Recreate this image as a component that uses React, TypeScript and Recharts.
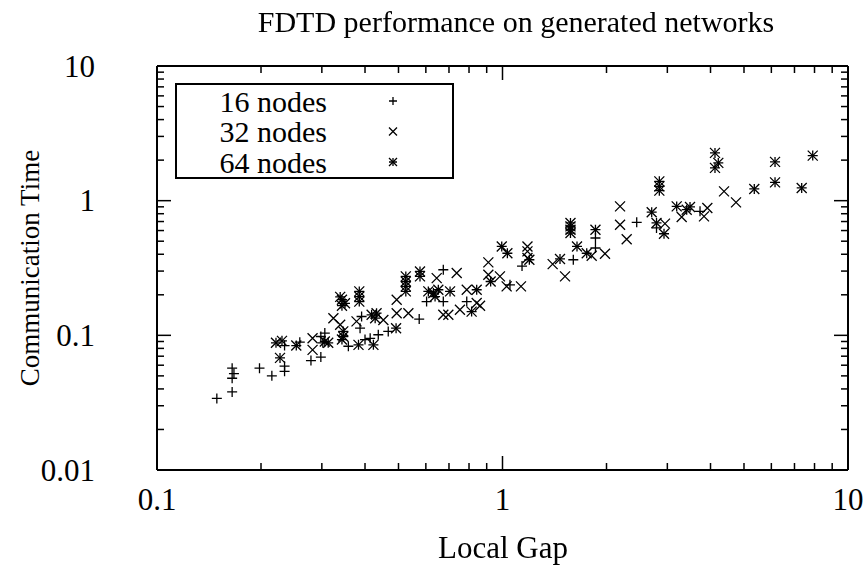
import { Legend, Scatter, ScatterChart, XAxis, YAxis } from "recharts";

const seriesNames = ["16 nodes", "32 nodes", "64 nodes"];

// [local gap, communication time]
const nodes16: [number, number][] = [
  [0.149, 0.034], [0.165, 0.038], [0.165, 0.048], [0.167, 0.052], [0.165, 0.057], [0.198, 0.057],
  [0.215, 0.05], [0.234, 0.054], [0.234, 0.059], [0.234, 0.084], [0.259, 0.089], [0.279, 0.065],
  [0.298, 0.069], [0.306, 0.104], [0.298, 0.098], [0.302, 0.088], [0.358, 0.083], [0.4, 0.093],
  [0.414, 0.095], [0.437, 0.101], [0.467, 0.107], [0.391, 0.138], [0.387, 0.113], [0.574, 0.132],
  [0.674, 0.307], [0.603, 0.178], [0.674, 0.178], [0.788, 0.178], [1.051, 0.237], [1.139, 0.327],
  [1.603, 0.364], [1.858, 0.528], [1.858, 0.445], [2.446, 0.69], [2.791, 0.627], [3.73, 0.833],
];

const nodes32: [number, number][] = [
  [0.282, 0.095], [0.282, 0.078], [0.324, 0.134], [0.339, 0.12], [0.378, 0.127], [0.452, 0.13],
  [0.494, 0.184], [0.494, 0.146], [0.534, 0.146], [0.645, 0.266], [0.674, 0.142], [0.697, 0.142],
  [0.753, 0.155], [0.842, 0.174], [0.861, 0.166], [0.737, 0.29], [0.788, 0.218], [0.91, 0.348],
  [0.91, 0.282], [0.983, 0.274], [1.028, 0.231], [1.131, 0.231], [1.181, 0.457], [1.181, 0.42],
  [1.181, 0.375], [1.397, 0.338], [1.517, 0.274], [1.812, 0.39], [1.98, 0.404], [2.189, 0.907],
  [2.189, 0.663], [2.288, 0.517], [2.953, 0.675], [3.301, 0.756], [3.83, 0.764], [3.916, 0.882],
  [4.377, 1.172], [4.741, 0.971],
];

const nodes64: [number, number][] = [
  [0.221, 0.088], [0.23, 0.091], [0.227, 0.068], [0.253, 0.084], [0.313, 0.088], [0.306, 0.09],
  [0.339, 0.193], [0.343, 0.184], [0.35, 0.173], [0.343, 0.166], [0.385, 0.212], [0.385, 0.194],
  [0.385, 0.178], [0.346, 0.107], [0.346, 0.098], [0.343, 0.093], [0.383, 0.085], [0.423, 0.085],
  [0.492, 0.113], [0.418, 0.142], [0.432, 0.146], [0.428, 0.134], [0.525, 0.274], [0.525, 0.251],
  [0.525, 0.231], [0.525, 0.212], [0.577, 0.298], [0.577, 0.274], [0.61, 0.212], [0.631, 0.206],
  [0.652, 0.218], [0.638, 0.194], [0.705, 0.212], [0.842, 0.218], [0.814, 0.15], [0.924, 0.251],
  [0.995, 0.457], [1.033, 0.407], [1.196, 0.364], [1.467, 0.369], [1.573, 0.683], [1.573, 0.644],
  [1.573, 0.609], [1.573, 0.575], [1.643, 0.457], [1.753, 0.407], [1.858, 0.609], [2.703, 0.821],
  [2.791, 0.683], [2.934, 0.568], [2.844, 1.391], [2.844, 1.277], [2.844, 1.187], [3.193, 0.907],
  [3.413, 0.857], [3.489, 0.898], [4.121, 2.263], [4.213, 1.907], [4.121, 1.751], [5.355, 1.222],
  [6.149, 1.94], [6.149, 1.368], [7.345, 1.243], [7.905, 2.161],
];

const xTicks = [0.1, 0.2, 0.3, 0.4, 0.5, 0.6, 0.7, 0.8, 0.9, 1, 2, 3, 4, 5, 6, 7, 8, 9, 10];
const yTicks = [
  0.01, 0.02, 0.03, 0.04, 0.05, 0.06, 0.07, 0.08, 0.09, 0.1, 0.2, 0.3, 0.4, 0.5, 0.6, 0.7, 0.8, 0.9,
  1, 2, 3, 4, 5, 6, 7, 8, 9, 10,
];
const xMajor = [0.1, 1, 10];
const xMajorLabels = ["0.1", "1", "10"];
const yMajor = [0.01, 0.1, 1, 10];
const yMajorLabels = ["0.01", "0.1", "1", "10"];

const FONT = "'Liberation Serif', 'Times New Roman', serif";
const MAJOR = 14;
const MINOR = 7;

const toPoints = (arr: [number, number][]) => arr.map(([x, y]) => ({ x, y }));

function majorIndex(v: number, majors: number[]) {
  return majors.findIndex((m) => Math.abs(m - v) / m < 1e-6);
}

function PlusMark({ cx, cy, r = 5 }: any) {
  return <path d={`M${cx - r},${cy}H${cx + r}M${cx},${cy - r}V${cy + r}`} stroke="#000" strokeWidth={1.3} fill="none" />;
}
function CrossMark({ cx, cy, r = 5 }: any) {
  return (
    <path
      d={`M${cx - r},${cy - r}L${cx + r},${cy + r}M${cx - r},${cy + r}L${cx + r},${cy - r}`}
      stroke="#000"
      strokeWidth={1.3}
      fill="none"
    />
  );
}
function StarMark({ cx, cy, r = 5 }: any) {
  return (
    <g>
      <PlusMark cx={cx} cy={cy} r={r} />
      <CrossMark cx={cx} cy={cy} r={r} />
    </g>
  );
}

const textStyle = { fontFamily: FONT };

function BottomTick({ x, y, payload }: any) {
  const i = majorIndex(payload.value, xMajor);
  return (
    <g>
      <line x1={x} x2={x} y1={y} y2={y - (i >= 0 ? MAJOR : MINOR)} stroke="#000" strokeWidth={1.5} />
      {i >= 0 && (
        <text x={x} y={y + 29} textAnchor="middle" dominantBaseline="central" style={textStyle} fontSize={31} fill="#000">
          {xMajorLabels[i]}
        </text>
      )}
    </g>
  );
}
function TopTick({ x, y, payload }: any) {
  const i = majorIndex(payload.value, xMajor);
  return <line x1={x} x2={x} y1={y} y2={y + (i >= 0 ? MAJOR : MINOR)} stroke="#000" strokeWidth={1.5} />;
}
function LeftTick({ x, y, payload }: any) {
  const i = majorIndex(payload.value, yMajor);
  return (
    <g>
      <line x1={x} x2={x + (i >= 0 ? MAJOR : MINOR)} y1={y} y2={y} stroke="#000" strokeWidth={1.5} />
      {i >= 0 && (
        <text x={95} y={y} textAnchor="end" dominantBaseline="central" style={textStyle} fontSize={31} fill="#000">
          {yMajorLabels[i]}
        </text>
      )}
    </g>
  );
}
function RightTick({ x, y, payload }: any) {
  const i = majorIndex(payload.value, yMajor);
  return <line x1={x} x2={x - (i >= 0 ? MAJOR : MINOR)} y1={y} y2={y} stroke="#000" strokeWidth={1.5} />;
}

function LegendBox() {
  const marks = [PlusMark, CrossMark, StarMark];
  return (
    <div style={{ width: 279, height: 96, border: "2px solid #000", boxSizing: "border-box", background: "#fff" }}>
      <svg width={275} height={92}>
        {seriesNames.map((name, k) => {
          const M = marks[k];
          const cy = 16 + k * 30.5;
          return (
            <g key={name}>
              <text x={150} y={cy} textAnchor="end" dominantBaseline="central" style={textStyle} fontSize={30} fill="#000">
                {name}
              </text>
              <M cx={216} cy={cy} r={4} />
            </g>
          );
        })}
      </svg>
    </div>
  );
}

const noMark = () => <g />;

export default function App() {
  const axisLine = { stroke: "#000", strokeWidth: 2 };
  return (
    <div style={{ position: "fixed", left: 0, top: 0, width: 868, height: 569, background: "#fff" }}>
      <ScatterChart width={868} height={569} margin={{ top: 65, right: 19, bottom: 0, left: 0 }}>
        <XAxis
          xAxisId="b"
          dataKey="x"
          type="number"
          scale="log"
          domain={[0.1, 10]}
          allowDataOverflow
          ticks={xTicks}
          interval={0}
          height={99}
          tickSize={0}
          tickMargin={0}
          tickLine={false}
          axisLine={axisLine}
          tick={<BottomTick />}
        />
        <XAxis
          xAxisId="t"
          orientation="top"
          dataKey="x"
          type="number"
          scale="log"
          domain={[0.1, 10]}
          allowDataOverflow
          ticks={xTicks}
          interval={0}
          height={1}
          tickSize={0}
          tickMargin={0}
          tickLine={false}
          axisLine={axisLine}
          tick={<TopTick />}
        />
        <YAxis
          yAxisId="l"
          dataKey="y"
          type="number"
          scale="log"
          domain={[0.01, 10]}
          allowDataOverflow
          ticks={yTicks}
          interval={0}
          width={157}
          tickSize={0}
          tickMargin={0}
          tickLine={false}
          axisLine={axisLine}
          tick={<LeftTick />}
        />
        <YAxis
          yAxisId="r"
          orientation="right"
          dataKey="y"
          type="number"
          scale="log"
          domain={[0.01, 10]}
          allowDataOverflow
          ticks={yTicks}
          interval={0}
          width={1}
          tickSize={0}
          tickMargin={0}
          tickLine={false}
          axisLine={axisLine}
          tick={<RightTick />}
        />
        <Scatter
          name={seriesNames[0]}
          xAxisId="b"
          yAxisId="l"
          data={toPoints(nodes16)}
          isAnimationActive={false}
          shape={(p: any) => <PlusMark cx={p.cx} cy={p.cy} />}
        />
        <Scatter
          name={seriesNames[1]}
          xAxisId="b"
          yAxisId="l"
          data={toPoints(nodes32)}
          isAnimationActive={false}
          shape={(p: any) => <CrossMark cx={p.cx} cy={p.cy} />}
        />
        <Scatter
          name={seriesNames[2]}
          xAxisId="b"
          yAxisId="l"
          data={toPoints(nodes64)}
          isAnimationActive={false}
          shape={(p: any) => <StarMark cx={p.cx} cy={p.cy} />}
        />
        {/* binds the mirrored top/right axes so they get drawn */}
        <Scatter
          name="frame"
          xAxisId="t"
          yAxisId="r"
          data={toPoints(nodes16)}
          isAnimationActive={false}
          legendType="none"
          shape={noMark}
        />
        <Legend
          layout="vertical"
          align="center"
          verticalAlign="middle"
          wrapperStyle={{ position: "absolute", left: 175, top: 83, width: 279, height: 96 }}
          content={() => <LegendBox />}
        />
      </ScatterChart>
      <div
        style={{
          position: "absolute",
          left: 0,
          width: 1032,
          top: 3,
          textAlign: "center",
          fontFamily: FONT,
          fontSize: 30,
          lineHeight: "38px",
        }}
      >
        FDTD performance on generated networks
      </div>
      <div
        style={{
          position: "absolute",
          left: 0,
          width: 1006,
          top: 529,
          textAlign: "center",
          fontFamily: FONT,
          fontSize: 31,
          lineHeight: "38px",
        }}
      >
        Local Gap
      </div>
      <div style={{ position: "absolute", left: 30, top: 268, width: 0, height: 0 }}>
        <div
          style={{
            position: "absolute",
            left: -200,
            top: -18,
            width: 400,
            textAlign: "center",
            fontFamily: FONT,
            fontSize: 27,
            lineHeight: "36px",
            transform: "rotate(-90deg)",
            whiteSpace: "nowrap",
          }}
        >
          Communication Time
        </div>
      </div>
    </div>
  );
}
